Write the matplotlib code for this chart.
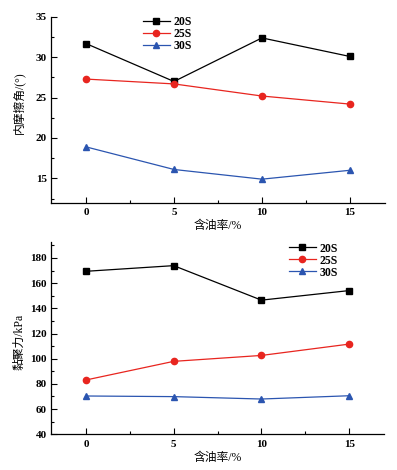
import matplotlib
matplotlib.use('Agg')
from matplotlib import pyplot
from matplotlib.ticker import MultipleLocator

oil_content = [0, 5, 10, 15]
series_names = ['20S', '25S', '30S']

friction_20s = [31.7, 27.0, 32.4, 30.1]
friction_25s = [27.3, 26.7, 25.2, 24.2]
friction_30s = [18.9, 16.1, 14.9, 16.0]

cohesion_20s = [169.4, 173.9, 146.5, 154.1]
cohesion_25s = [83.1, 97.9, 102.6, 111.6]
cohesion_30s = [70.4, 69.9, 68.0, 70.6]

colors = ['black', '#e8251f', '#2b55b0']
markers = ['s', 'o', '^']

pyplot.rcParams['font.family'] = ['Liberation Serif', 'Noto Sans CJK SC']
pyplot.rcParams['font.size'] = 8


def style_axes(ax, y_major, y_minor):
    ax.spines['top'].set_visible(False)
    ax.spines['right'].set_visible(False)
    ax.set_xlim(-2, 17)
    ax.xaxis.set_major_locator(MultipleLocator(5))
    ax.xaxis.set_minor_locator(MultipleLocator(2.5))
    ax.yaxis.set_major_locator(MultipleLocator(y_major))
    ax.yaxis.set_minor_locator(MultipleLocator(y_minor))
    ax.tick_params(which='both', direction='in', width=0.8, pad=3)
    ax.tick_params(which='major', length=4)
    ax.tick_params(which='minor', length=2.5)
    ax.tick_params(axis='x', pad=4)
    for lab in ax.get_xticklabels() + ax.get_yticklabels():
        lab.set_fontweight('bold')
    for s in ['left', 'bottom']:
        ax.spines[s].set_linewidth(0.9)
    ax.set_xlabel('含油率/%', fontsize=8.5, labelpad=2)


def plot_panel(ax, data):
    for vals, name, c, m in zip(data, series_names, colors, markers):
        ax.plot(oil_content, vals, color=c, marker=m, markersize=4.5, linewidth=0.9, label=name)


def add_legend(ax, x, y):
    leg = ax.legend(loc='upper left', bbox_to_anchor=(x, y), frameon=False, handlelength=2.3,
                    handletextpad=0.3, labelspacing=0.0, fontsize=8.5)
    for t in leg.get_texts():
        t.set_fontweight('bold')


fig = pyplot.figure(figsize=(3.97, 4.70), dpi=100)

ax1 = fig.add_axes([0.128, 0.569, 0.842, 0.395])
plot_panel(ax1, [friction_20s, friction_25s, friction_30s])
style_axes(ax1, 5, 2.5)
ax1.set_ylim(12, 35)
ax1.set_ylabel('内摩擦角/(°)', fontsize=8.5)
ax1.yaxis.set_label_coords(-0.076, 0.536)
add_legend(ax1, 0.243, 1.064)

ax2 = fig.add_axes([0.128, 0.076, 0.840, 0.410])
plot_panel(ax2, [cohesion_20s, cohesion_25s, cohesion_30s])
style_axes(ax2, 20, 10)
ax2.set_ylim(40, 193)
ax2.set_ylabel('黏聚力/kPa', fontsize=8.5)
ax2.yaxis.set_label_coords(-0.076, 0.48)
add_legend(ax2, 0.682, 1.05)

fig.savefig('out.png', dpi=100)
pyplot.close()
